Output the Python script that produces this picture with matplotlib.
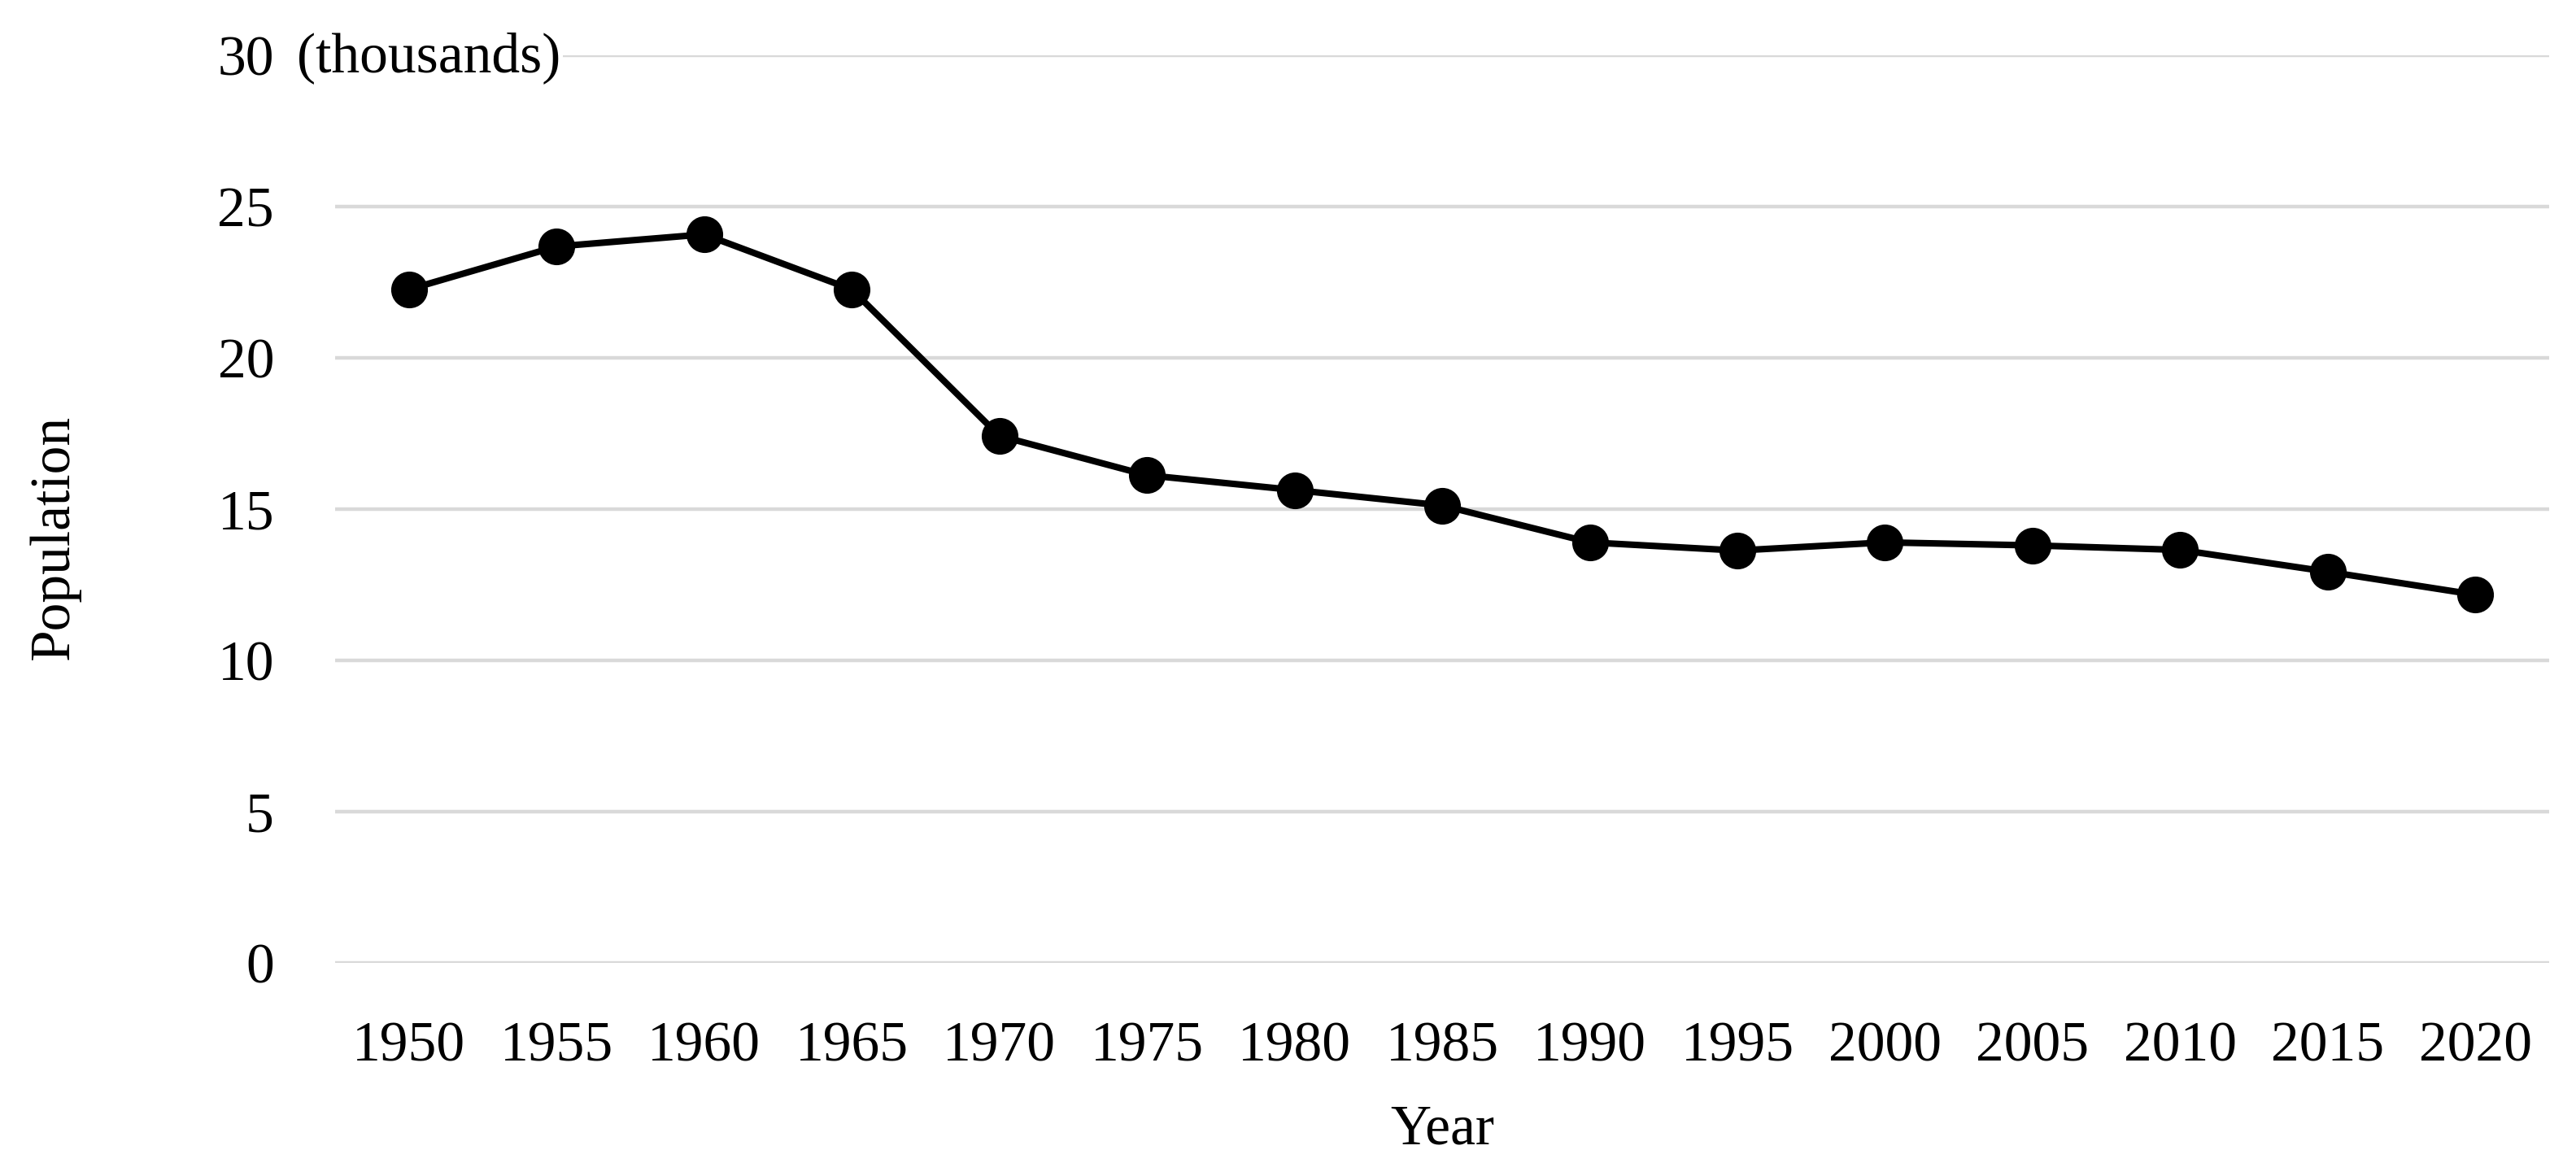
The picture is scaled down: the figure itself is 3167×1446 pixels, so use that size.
import matplotlib
matplotlib.use("Agg")
import matplotlib.pyplot as plt

matplotlib.rcParams.update(
    {
        "font.family": "serif",
        "font.serif": ["Liberation Serif", "DejaVu Serif"],
        "font.size": 50,
    }
)

# data (population in thousands)
years = ["1950", "1955", "1960", "1965", "1970", "1975", "1980", "1985",
         "1990", "1995", "2000", "2005", "2010", "2015", "2020"]
population = [22.26, 23.68, 24.08, 22.26, 17.42, 16.12, 15.63, 15.12,
              13.90, 13.63, 13.90, 13.80, 13.65, 12.93, 12.17]
y_ticks = [0, 5, 10, 15, 20, 25, 30]


def main() -> None:
    fig = plt.figure(figsize=(31.67, 14.46), dpi=100)
    ax = fig.add_axes((0.1301, 0.1812, 0.8595, 0.7718))

    x = list(range(len(years)))
    ax.plot(x, population, color="black", linewidth=5.8, marker="o",
            markersize=31, markerfacecolor="black", markeredgecolor="black",
            markeredgewidth=1.5, zorder=3)

    ax.set_xlim(-0.5, len(years) - 0.5)
    ax.set_ylim(0, 30)
    ax.set_yticks(y_ticks)
    ax.set_xticks(x)
    ax.set_xticklabels(years)
    ax.tick_params(axis="both", length=0)
    ax.tick_params(axis="y", pad=54)
    ax.tick_params(axis="x", pad=52)
    ax.grid(axis="y", color="#d9d9d9", linewidth=3.2)
    ax.grid(axis="x", visible=False)
    ax.set_axisbelow(True)
    for spine in ax.spines.values():
        spine.set_visible(False)

    # unit note next to the top tick label
    fig.text(365 / 3167, 1 - 88 / 1446, "(thousands)", ha="left", va="baseline",
             fontsize=50, bbox=dict(facecolor="white", edgecolor="none", pad=2))

    fig.text(67 / 3167, 1 - 660 / 1446, "Population", rotation=90,
             ha="center", va="center", fontsize=50)
    fig.text(1773 / 3167, 1 - 1390 / 1446, "Year", ha="center", va="center",
             fontsize=50)

    fig.savefig("out.png", dpi=100)
    plt.close(fig)


if __name__ == "__main__":
    main()
